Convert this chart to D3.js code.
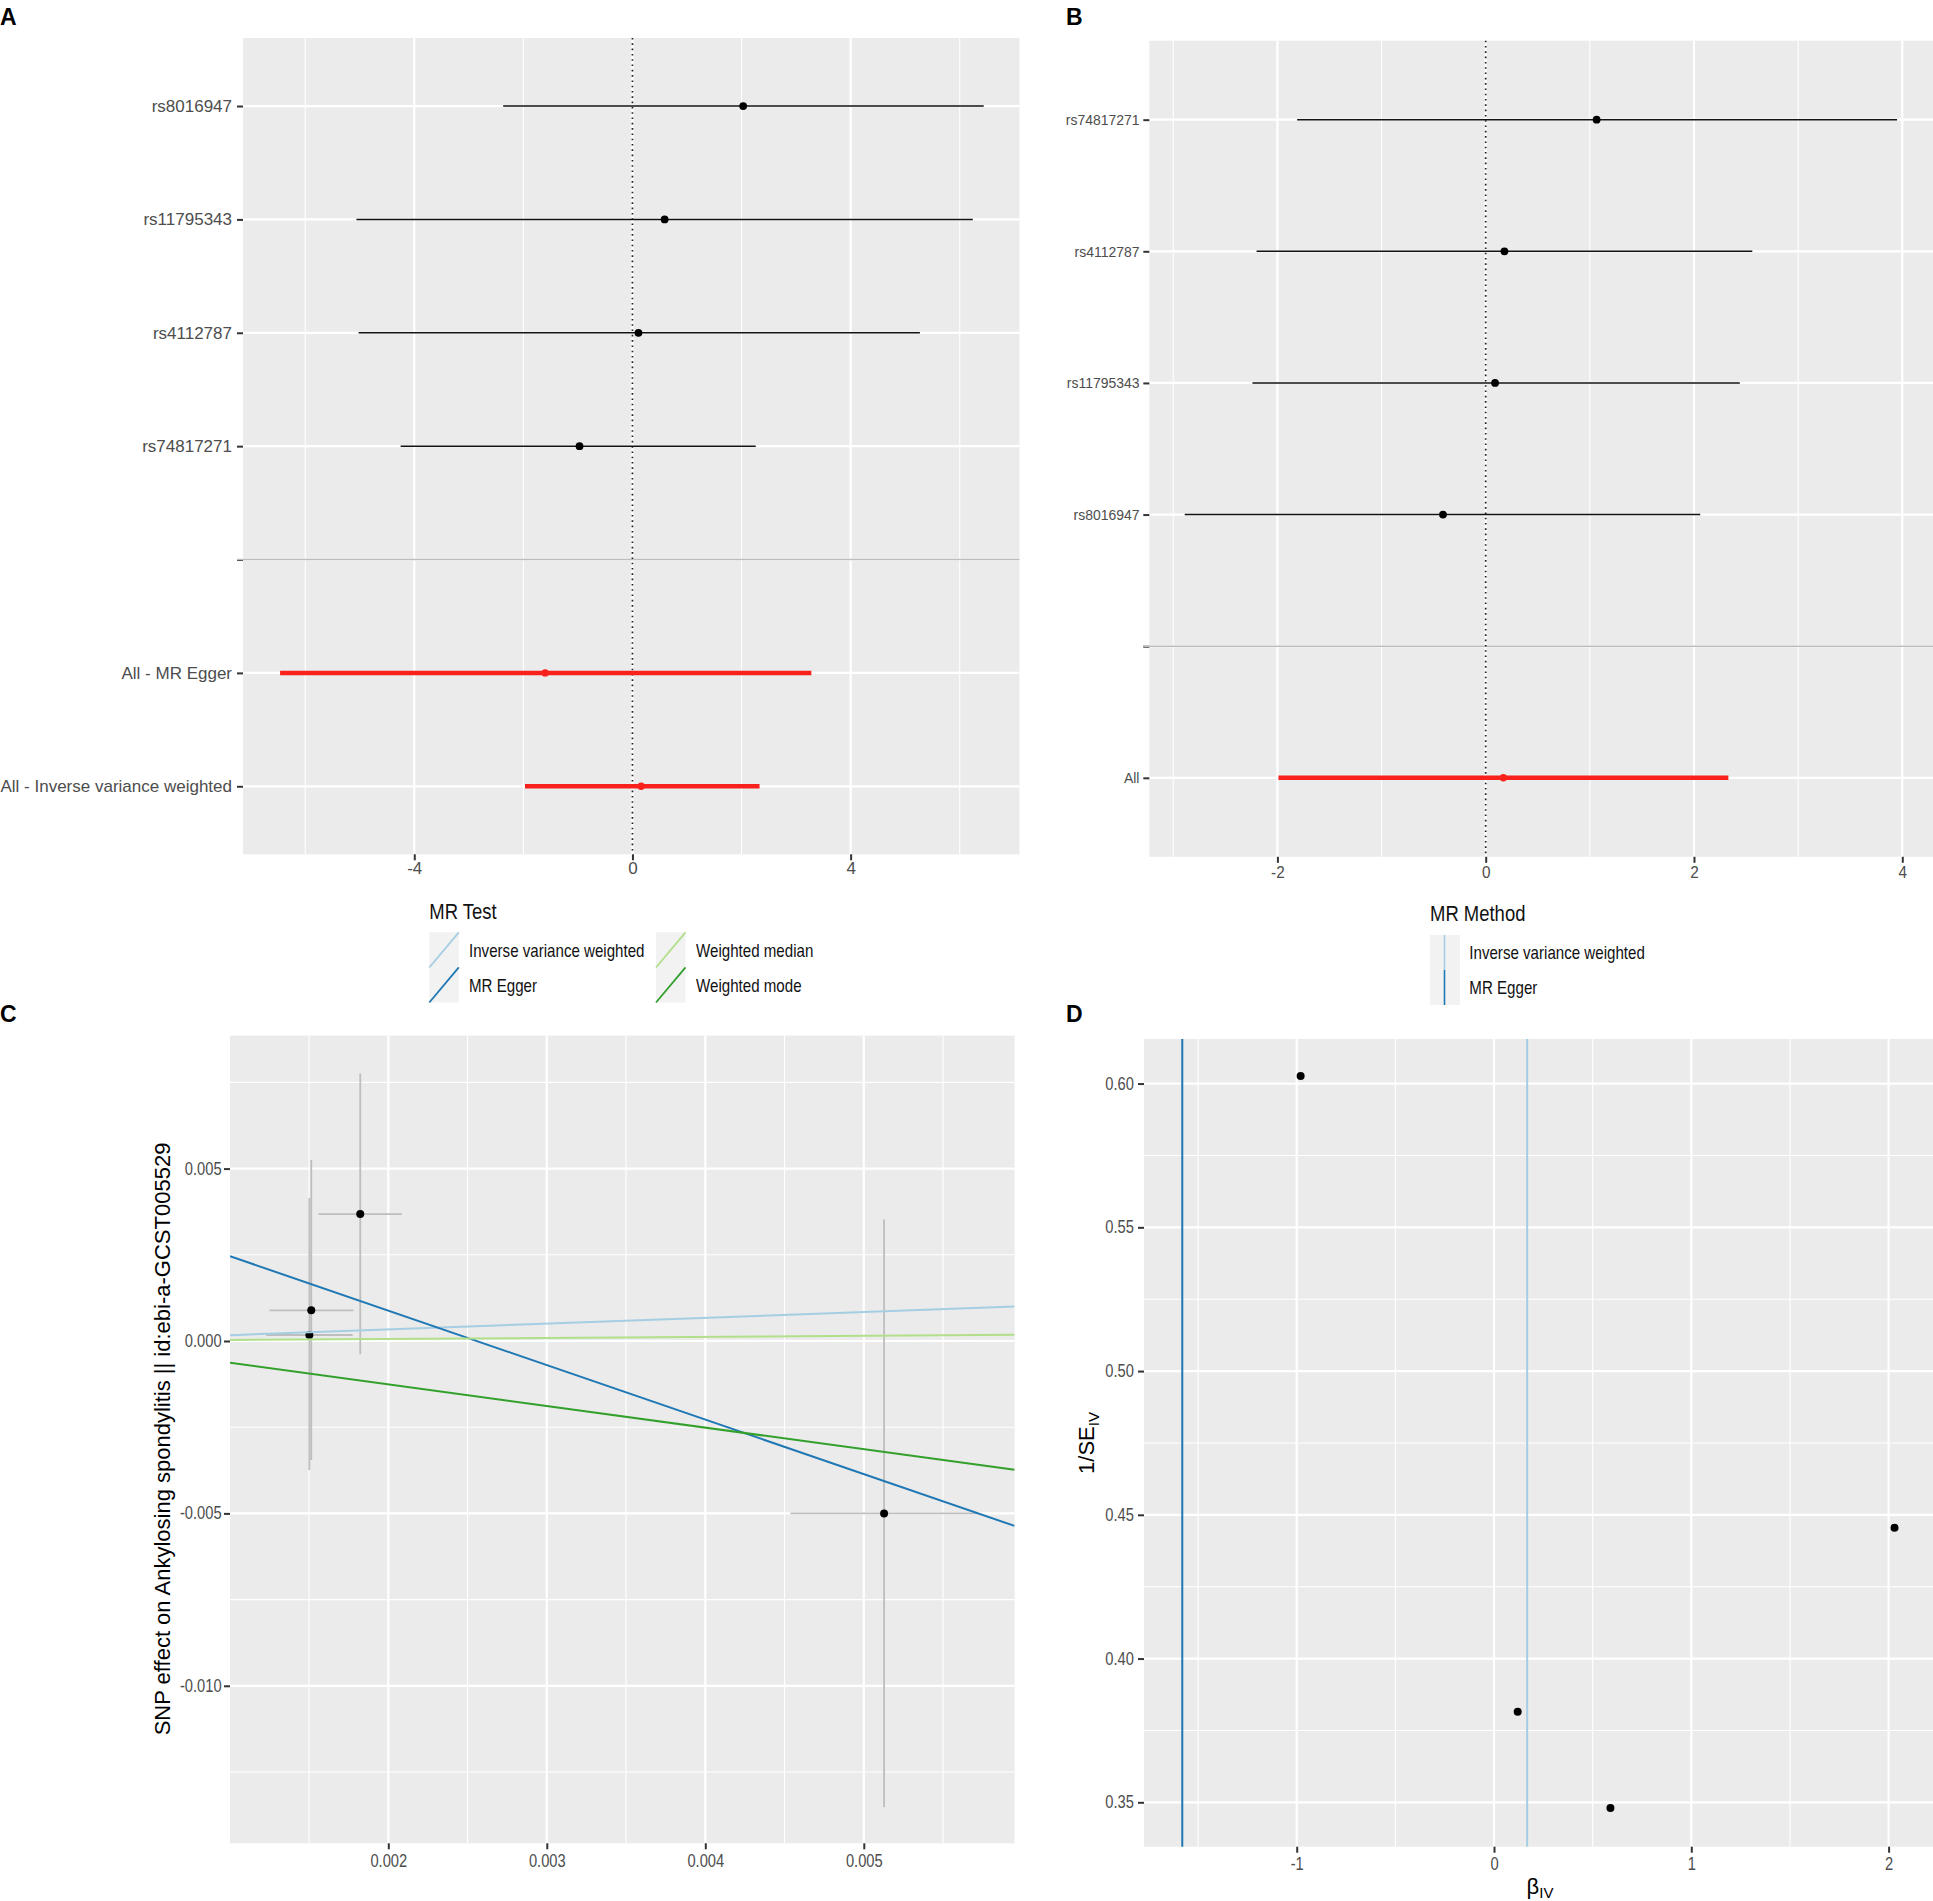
<!DOCTYPE html>
<html>
<head>
<meta charset="utf-8">
<script src="https://cdn.jsdelivr.net/npm/d3@7"></script>
<style>
body { margin: 0; background: #fff; }
text { font-family: "Liberation Sans", Arial, sans-serif; }
</style>
</head>
<body>
<svg id="fig" width="1933" height="1901"></svg>
<script>
// A: single SNP forest plot (rows top to bottom, "" = separator row)
var rowsA = ["rs8016947", "rs11795343", "rs4112787", "rs74817271", "", "All - MR Egger", "All - Inverse variance weighted"];
var bA = [2.03, 0.59, 0.11, -0.97, null, -1.60, 0.16];
var loA = [-2.37, -5.06, -5.02, -4.25, null, -6.46, -1.97];
var hiA = [6.44, 6.24, 5.27, 2.26, null, 3.28, 2.33];
var xMajorA = [-4, 0, 4];
var xMinorA = [-6, -2, 2, 6];

// B: leave-one-out style forest plot
var rowsB = ["rs74817271", "rs4112787", "rs11795343", "rs8016947", "", "All"];
var bB = [1.065, 0.18, 0.09, -0.41, null, 0.17];
var loB = [-1.81, -2.20, -2.24, -2.89, null, -1.99];
var hiB = [3.95, 2.56, 2.44, 2.06, null, 2.33];
var xMajorB = [-2, 0, 2, 4];
var xMinorB = [-3, -1, 1, 3];

// C: scatter plot SNP effects
var bxC = [0.001502, 0.001514, 0.001823, 0.005128];
var byC = [0.000174, 0.00089, 0.00368, -0.005];
var bxLoC = [0.00123, 0.00125, 0.00156, 0.004537];
var bxHiC = [0.001775, 0.00178, 0.002086, 0.00572];
var byLoC = [-0.00374, -0.00345, -0.000386, -0.01352];
var byHiC = [0.00415, 0.00525, 0.00776, 0.00352];
var methods = ["Inverse variance weighted", "MR Egger", "Weighted median", "Weighted mode"];
var methodColors = ["#a6cee3", "#1f78b4", "#b2df8a", "#33a02c"];
var slopes = [0.168, -1.58, 0.03, -0.628];
var intercepts = [0, 0.00404, 0, 0];
var xMajorC = [0.002, 0.003, 0.004, 0.005];
var xMinorC = [0.0015, 0.0025, 0.0035, 0.0045, 0.0055];
var yMajorC = [-0.010, -0.005, 0.000, 0.005];
var yMinorC = [-0.0125, -0.0075, -0.0025, 0.0025, 0.0075];

// D: funnel plot
var betaIV = [-0.98, 2.03, 0.12, 0.59];
var invSE = [0.6026, 0.4455, 0.3815, 0.348];
var methodsD = ["Inverse variance weighted", "MR Egger"];
var colorsD = ["#a6cee3", "#1f78b4"];
var bD = [0.168, -1.58];
var xMajorD = [-1, 0, 1, 2];
var xMinorD = [-1.5, -0.5, 0.5, 1.5];
var yMajorD = [0.35, 0.40, 0.45, 0.50, 0.55, 0.60];
var yMinorD = [0.375, 0.425, 0.475, 0.525, 0.575];

var svg = d3.select("#fig");
var BG = "#ebebeb";

function ext(s) {
    var r = s.range();
    return [Math.min(r[0], r[1]), Math.max(r[0], r[1])];
}

// grey panel with white grid
function panel(g, x, y, xMaj, xMin, yMaj, yMin) {
    var xr = ext(x), yr = ext(y);
    g.append("rect")
        .attr("x", xr[0]).attr("y", yr[0])
        .attr("width", xr[1] - xr[0]).attr("height", yr[1] - yr[0])
        .attr("fill", BG);
    g.selectAll(null).data(xMin).enter().append("line")
        .attr("x1", x).attr("x2", x).attr("y1", yr[0]).attr("y2", yr[1])
        .attr("stroke", "#fff").attr("stroke-width", 1.1);
    g.selectAll(null).data(yMin).enter().append("line")
        .attr("y1", y).attr("y2", y).attr("x1", xr[0]).attr("x2", xr[1])
        .attr("stroke", "#fff").attr("stroke-width", 1.1);
    g.selectAll(null).data(xMaj).enter().append("line")
        .attr("x1", x).attr("x2", x).attr("y1", yr[0]).attr("y2", yr[1])
        .attr("stroke", "#fff").attr("stroke-width", 2.2);
    g.selectAll(null).data(yMaj).enter().append("line")
        .attr("y1", y).attr("y2", y).attr("x1", xr[0]).attr("x2", xr[1])
        .attr("stroke", "#fff").attr("stroke-width", 2.2);
}

// size / sx: font size and horizontal squeeze of the tick labels
function styleAxis(a, size, sx) {
    a.attr("font-family", null).attr("font-size", null);
    a.select(".domain").remove();
    a.selectAll(".tick line").attr("stroke", "#333").attr("stroke-width", 2);
    a.selectAll(".tick text").attr("fill", "#4d4d4d").style("font-size", size + "px")
        .attr("transform", sx === 1 ? null : "scale(" + sx + ",1)");
}

function axes(g, x, y, o) {
    var xr = ext(x), yr = ext(y);
    var ax = d3.axisBottom(x).tickSize(6).tickPadding(o.xPad);
    if (o.xTicks) ax.tickValues(o.xTicks);
    if (o.xFmt) ax.tickFormat(o.xFmt);
    g.append("g").attr("transform", "translate(0," + yr[1] + ")").call(ax)
        .call(styleAxis, o.xSize, o.xSx);
    var ay = d3.axisLeft(y).tickSize(6).tickPadding(o.yPad);
    if (o.yTicks) ay.tickValues(o.yTicks);
    if (o.yFmt) ay.tickFormat(o.yFmt);
    g.append("g").attr("transform", "translate(" + xr[0] + ",0)").call(ay)
        .call(styleAxis, o.ySize, o.ySx);
}

function forest(g, rows, b, lo, hi, x, y) {
    var xr = ext(x), yr = ext(y);
    var idx = d3.range(rows.length).filter(function (i) { return b[i] !== null; });
    var isAll = function (i) { return rows[i].indexOf("All") === 0; };
    // separator row
    g.append("line")
        .attr("x1", xr[0] - 6).attr("x2", xr[1])
        .attr("y1", y("")).attr("y2", y(""))
        .attr("stroke", "#bdbdbd").attr("stroke-width", 1.6);
    // zero line
    g.append("line")
        .attr("x1", x(0)).attr("x2", x(0)).attr("y1", yr[0]).attr("y2", yr[1])
        .attr("stroke", "#222").attr("stroke-width", 1.7)
        .attr("stroke-dasharray", "1.6,3.7");
    g.selectAll(null).data(idx).enter().append("line")
        .attr("x1", function (i) { return x(lo[i]); })
        .attr("x2", function (i) { return x(hi[i]); })
        .attr("y1", function (i) { return y(rows[i]); })
        .attr("y2", function (i) { return y(rows[i]); })
        .attr("stroke", function (i) { return isAll(i) ? "#f8211c" : "#111"; })
        .attr("stroke-width", function (i) { return isAll(i) ? 4.5 : 1.5; });
    g.selectAll(null).data(idx).enter().append("circle")
        .attr("cx", function (i) { return x(b[i]); })
        .attr("cy", function (i) { return y(rows[i]); })
        .attr("r", function (i) { return isAll(i) ? 3.7 : 3.9; })
        .attr("fill", function (i) { return isAll(i) ? "#f8211c" : "#000"; });
}

function condText(g, str, x, y, size, sx) {
    return g.append("text")
        .attr("transform", "translate(" + x + "," + y + ") scale(" + sx + ",1)")
        .style("font-size", size + "px")
        .attr("fill", "#111")
        .text(str);
}

var fmt0 = function (d) { return d.toFixed(0); };

// ---------- Panel A ----------
var gA = svg.append("g");
var xA = d3.scaleLinear().domain([-7.14, 7.096]).range([243, 1019.5]);
var yA = d3.scalePoint().domain(rowsA).range([38, 854.3]).padding(0.6);
panel(gA, xA, yA, xMajorA, xMinorA, rowsA, []);
axes(gA, xA, yA, { xTicks: xMajorA, xFmt: fmt0, xPad: 2, xSize: 17, xSx: 1,
                   yPad: 5, ySize: 17, ySx: 1 });
forest(gA, rowsA, bA, loA, hiA, xA, yA);

// ---------- Panel B ----------
var gB = svg.append("g");
var xB = d3.scaleLinear().domain([-3.23, 4.295]).range([1149.3, 1933]);
var yB = d3.scalePoint().domain(rowsB).range([40.7, 856.8]).padding(0.6);
panel(gB, xB, yB, xMajorB, xMinorB, rowsB, []);
axes(gB, xB, yB, { xTicks: xMajorB, xFmt: fmt0, xPad: 3, xSize: 17, xSx: 0.9,
                   yPad: 5, ySize: 15.5, ySx: 0.9 });
forest(gB, rowsB, bB, loB, hiB, xB, yB);

// ---------- Panel C ----------
var gC = svg.append("g");
var xC = d3.scaleLinear().domain([0.0010013, 0.0059514]).range([230, 1014.6]);
var yC = d3.scaleLinear().domain([-0.014568, 0.008857]).range([1843.3, 1035.6]);
var fmt3 = function (d) { return d.toFixed(3); };
panel(gC, xC, yC, xMajorC, xMinorC, yMajorC, yMinorC);
axes(gC, xC, yC, { xTicks: xMajorC, xFmt: fmt3, xPad: 5, xSize: 17.5, xSx: 0.84,
                   yTicks: yMajorC, yFmt: fmt3, yPad: 4, ySize: 17.5, ySx: 0.84 });

svg.append("clipPath").attr("id", "clipC").append("rect")
    .attr("x", 230).attr("y", 1035.6).attr("width", 1014.6 - 230).attr("height", 1843.3 - 1035.6);
var gCd = gC.append("g").attr("clip-path", "url(#clipC)");
var ci = d3.range(bxC.length);
gCd.selectAll(null).data(ci).enter().append("line")
    .attr("x1", function (i) { return xC(bxC[i]); })
    .attr("x2", function (i) { return xC(bxC[i]); })
    .attr("y1", function (i) { return yC(byLoC[i]); })
    .attr("y2", function (i) { return yC(byHiC[i]); })
    .attr("stroke", "#bebebe").attr("stroke-width", 1.8);
gCd.selectAll(null).data(ci).enter().append("line")
    .attr("x1", function (i) { return xC(bxLoC[i]); })
    .attr("x2", function (i) { return xC(bxHiC[i]); })
    .attr("y1", function (i) { return yC(byC[i]); })
    .attr("y2", function (i) { return yC(byC[i]); })
    .attr("stroke", "#bebebe").attr("stroke-width", 1.8);
gCd.selectAll(null).data(ci).enter().append("circle")
    .attr("cx", function (i) { return xC(bxC[i]); })
    .attr("cy", function (i) { return yC(byC[i]); })
    .attr("r", 4).attr("fill", "#000");
var xd = xC.domain();
gCd.selectAll(null).data(d3.range(methods.length)).enter().append("line")
    .attr("x1", xC(xd[0])).attr("x2", xC(xd[1]))
    .attr("y1", function (i) { return yC(intercepts[i] + slopes[i] * xd[0]); })
    .attr("y2", function (i) { return yC(intercepts[i] + slopes[i] * xd[1]); })
    .attr("stroke", function (i) { return methodColors[i]; })
    .attr("stroke-width", 2);

gC.append("text")
    .attr("transform", "translate(170,1439) rotate(-90)")
    .attr("text-anchor", "middle")
    .style("font-size", "22px").attr("fill", "#000")
    .text("SNP effect on Ankylosing spondylitis || id:ebi-a-GCST005529");

// legend "MR Test"
var lgC = svg.append("g");
condText(lgC, "MR Test", 429.3, 919, 22, 0.84);
var keyX = [429.3, 429.3, 656, 656];
var keyY = [932.3, 967.3, 932.3, 967.3];
var labX = [469, 469, 696, 696];
lgC.selectAll(null).data(d3.range(methods.length)).enter().append("rect")
    .attr("x", function (i) { return keyX[i]; }).attr("y", function (i) { return keyY[i]; })
    .attr("width", 29.5).attr("height", 35.2).attr("fill", "#f2f2f2");
lgC.selectAll(null).data(d3.range(methods.length)).enter().append("line")
    .attr("x1", function (i) { return keyX[i]; })
    .attr("y1", function (i) { return keyY[i] + 35.2; })
    .attr("x2", function (i) { return keyX[i] + 29.5; })
    .attr("y2", function (i) { return keyY[i]; })
    .attr("stroke", function (i) { return methodColors[i]; })
    .attr("stroke-width", 1.8);
methods.forEach(function (m, i) {
    condText(lgC, m, labX[i], keyY[i] + 24.4, 18, 0.84);
});

// ---------- Panel D ----------
var gD = svg.append("g");
var xD = d3.scaleLinear().domain([-1.774, 2.225]).range([1144, 1933]);
var yD = d3.scaleLinear().domain([0.33456, 0.6155]).range([1846.7, 1039]);
panel(gD, xD, yD, xMajorD, xMinorD, yMajorD, yMinorD);
axes(gD, xD, yD, { xTicks: xMajorD, xFmt: fmt0, xPad: 4.5, xSize: 17.5, xSx: 0.84,
                   yTicks: yMajorD, yFmt: function (d) { return d.toFixed(2); },
                   yPad: 6, ySize: 17.5, ySx: 0.84 });
gD.selectAll(null).data(betaIV).enter().append("circle")
    .attr("cx", function (d) { return xD(d); })
    .attr("cy", function (d, i) { return yD(invSE[i]); })
    .attr("r", 4).attr("fill", "#000");
gD.selectAll(null).data(bD).enter().append("line")
    .attr("x1", function (d) { return xD(d); }).attr("x2", function (d) { return xD(d); })
    .attr("y1", 1039).attr("y2", 1846.7)
    .attr("stroke", function (d, i) { return colorsD[i]; })
    .attr("stroke-width", 2);

var tx = gD.append("text").attr("x", 1540).attr("y", 1894)
    .attr("text-anchor", "middle").style("font-size", "22px").attr("fill", "#000");
tx.append("tspan").text("\u03b2");
tx.append("tspan").attr("dy", 4).style("font-size", "15px").text("IV");

var ty = gD.append("text").attr("transform", "translate(1094,1443) rotate(-90)")
    .attr("text-anchor", "middle").style("font-size", "22px").attr("fill", "#000");
ty.append("tspan").text("1/SE");
ty.append("tspan").attr("dy", 5).style("font-size", "15px").text("IV");

// legend "MR Method"
var lgD = svg.append("g");
condText(lgD, "MR Method", 1430, 920.7, 22, 0.84);
lgD.selectAll(null).data(methodsD).enter().append("rect")
    .attr("x", 1430).attr("y", function (d, i) { return 935 + i * 35; })
    .attr("width", 30).attr("height", 35).attr("fill", "#f2f2f2");
lgD.selectAll(null).data(methodsD).enter().append("line")
    .attr("x1", 1444.5).attr("x2", 1444.5)
    .attr("y1", function (d, i) { return 935 + i * 35; })
    .attr("y2", function (d, i) { return 970 + i * 35; })
    .attr("stroke", function (d, i) { return colorsD[i]; })
    .attr("stroke-width", 1.6);
methodsD.forEach(function (m, i) {
    condText(lgD, m, 1469.3, 959 + i * 35.3, 18, 0.84);
});

// panel tags
var tags = ["A", "B", "C", "D"];
var tagX = [0, 1066, 0, 1066];
var tagY = [25, 25, 1022, 1022];
svg.selectAll(null).data(tags).enter().append("text")
    .attr("x", function (d, i) { return tagX[i]; })
    .attr("y", function (d, i) { return tagY[i]; })
    .style("font-size", "23px").style("font-weight", "bold").attr("fill", "#000")
    .text(function (d) { return d; });
</script>
</body>
</html>
